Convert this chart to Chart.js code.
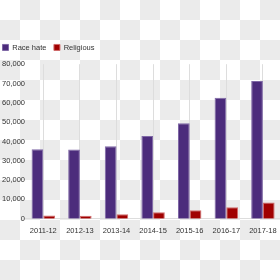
<!DOCTYPE html>
<html>
<head>
<meta charset="utf-8">
<script src="https://cdn.jsdelivr.net/npm/chart.js@4/dist/chart.umd.min.js"></script>
<style>
  html, body { margin: 0; padding: 0; }
  body {
    width: 280px; height: 280px; overflow: hidden; position: relative;
    background: repeating-conic-gradient(#ebebeb 0 25%, #ffffff 0 50%) 0 0 / 40px 40px;
  }
  #chart { position: absolute; left: -5px; top: 0; }
</style>
</head>
<body>
<canvas id="chart" width="290" height="280"></canvas>
<script>
// Hate crimes by year
const years = ["2011-12", "2012-13", "2013-14", "2014-15", "2015-16", "2016-17", "2017-18"];
const raceHate = [35944, 35845, 37575, 42862, 49419, 62685, 71251];
const religious = [1618, 1572, 2264, 3293, 4400, 5949, 8336];

const font = { family: "'Liberation Sans', Arial, sans-serif", size: 7.5 };

// a bit more room under the legend
const legendGap = {
  id: "legendGap",
  beforeInit(chart) {
    const fit = chart.legend.fit;
    chart.legend.fit = function() {
      fit.call(this);
      this.height += 3;
    };
  }
};

new Chart(document.getElementById("chart"), {
  type: "bar",
  data: {
    labels: years,
    datasets: [
      { label: "Race hate", data: raceHate, backgroundColor: "#4c2c7c", borderColor: "#7f68a6", borderWidth: 1 },
      { label: "Religious", data: religious, backgroundColor: "#a00000", borderColor: "#d06a6a", borderWidth: 1 }
    ]
  },
  plugins: [legendGap],
  options: {
    responsive: false,
    animation: false,
    layout: { padding: { top: 36.2, right: 3.8, bottom: 36.3, left: 0 } },
    datasets: { bar: { categoryPercentage: 0.64, barPercentage: 1 } },
    plugins: {
      legend: {
        position: "top",
        align: "start",
        labels: { boxWidth: 6, boxHeight: 6, padding: 7.5, color: "#333", font: font }
      },
      tooltip: { enabled: false }
    },
    scales: {
      x: {
        grid: { offset: false, color: "#dddddd", drawTicks: false },
        border: { color: "#dddddd" },
        ticks: { color: "#333", font: font, padding: 8, maxRotation: 0 }
      },
      y: {
        min: 0, max: 80000,
        grid: { display: false, drawTicks: false },
        border: { display: false },
        ticks: { stepSize: 10000, color: "#333", font: font, padding: 0 },
        afterFit: function(scale) { scale.width = 30; }
      }
    }
  }
});
</script>
</body>
</html>
